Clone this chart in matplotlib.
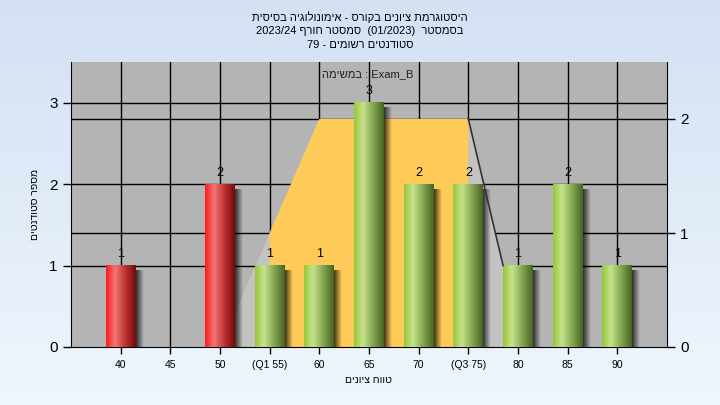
import re
import numpy as np
import matplotlib
matplotlib.use("Agg")
import matplotlib.pyplot as plt
from matplotlib.patches import Polygon

# ---------------- data ----------------
scores = [40, 45, 50, 55, 60, 65, 70, 75, 80, 85, 90]
counts = [1, 0, 2, 1, 1, 3, 2, 2, 1, 2, 1]
tick_labels = ['40', '45', '50', '(Q1 55)', '60', '65', '70', '(Q3 75)', '80', '85', '90']
pass_score = 55
left_ticks = [0, 1, 2, 3]
right_ticks = [0, 1, 2]
# distribution outline (score, value on right axis)
outline_x = [50, 55, 60, 75, 78.5, 78.5]
outline_y = [0, 1, 2, 2, 0.714, 0]
iqr_x = [55, 55, 60, 75, 75]
iqr_y = [0, 1, 2, 2, 0]

title_lines = ["היסטוגרמת ציונים בקורס - אימונולוגיה בסיסית",
               "בסמסטר  (01/2023)  סמסטר חורף 2023/24",
               "סטודנטים רשומים - 79"]
task_label = "Exam_B : במשימה"
x_title = "טווח ציונים"
y_title = "מספר סטודנטים"

FONT = ['Liberation Sans', 'DejaVu Sans']
plt.rcParams['font.family'] = FONT


def vis(s):
    """Visual order for a right-to-left paragraph (simple bidi)."""
    r = s[::-1]
    r = re.sub(r'[A-Za-z0-9_/.]+', lambda m: m.group(0)[::-1], r)
    return r.translate(str.maketrans('()', ')('))


LMAX, RMAX = 3.5, 2.5
k = LMAX / RMAX

fig = plt.figure(figsize=(7.2, 4.05), dpi=100)

# background gradient
bg = fig.add_axes([0, 0, 1, 1], zorder=-10)
top = np.array([211, 225, 243]) / 255
bot = np.array([239, 246, 253]) / 255
t = np.linspace(0, 1, 200)[:, None]
grad = top[None, :] * (1 - t) + bot[None, :] * t
bg.imshow(grad[:, None, :], aspect='auto', extent=[0, 1, 0, 1])
bg.axis('off')

ax = fig.add_axes([71 / 720, 1 - 347 / 405, (667 - 71) / 720, (347 - 62) / 405])
ax.set_facecolor('#b4b4b4')

# grid lines
for s in scores:
    ax.axvline(s, color='black', lw=1, zorder=0.5)
for v in left_ticks[1:]:
    ax.axhline(v, color='black', lw=1, zorder=0.5)
for v in right_ticks[1:]:
    ax.axhline(v * k, color='black', lw=1, zorder=0.5)

# outline polygons
ax.add_patch(Polygon(list(zip(outline_x, [y * k for y in outline_y])), closed=True,
                     facecolor='#c3c3c3', edgecolor='none', zorder=1))
ax.add_patch(Polygon(list(zip(iqr_x, [y * k for y in iqr_y])), closed=True,
                     facecolor='#fecb58', edgecolor='none', zorder=1.1))
ax.plot(outline_x[3:5], [outline_y[3] * k, outline_y[4] * k], color='#333333', lw=1.2, zorder=3.5)


def make_grad(stops, n=64):
    xs = np.linspace(0, 1, n)
    pos = [p for p, c in stops]
    cols = np.array([c for p, c in stops]) / 255
    return np.stack([np.interp(xs, pos, cols[:, i]) for i in range(3)], axis=1)


red_grad = make_grad([(0, (255, 25, 25)), (0.3, (242, 118, 118)), (0.65, (190, 50, 50)), (1, (115, 10, 10))])
green_grad = make_grad([(0, (150, 200, 60)), (0.3, (200, 226, 140)), (0.65, (130, 165, 80)), (1, (72, 100, 35))])

bw = 3.0
sh = np.zeros((1, 32, 4))
sh[0, :, 3] = np.linspace(0.75, 0.0, 32)
for s, c in zip(scores, counts):
    if c <= 0:
        continue
    g = red_grad if s < pass_score else green_grad
    x0, x1 = s - bw / 2, s + bw / 2
    # shadow
    ax.imshow(sh, extent=[x1, x1 + 0.8, 0, c - 0.06], aspect='auto', zorder=2,
              interpolation='bilinear')
    ax.imshow(g[None, :, :], extent=[x0, x1, 0, c], aspect='auto', zorder=3,
              interpolation='bilinear')
    ax.annotate(str(c), (s, c), xytext=(0, 4), textcoords='offset points',
                ha='center', va='bottom', fontsize=9, zorder=5)

ax.set_xlim(35, 95)
ax.set_ylim(0, LMAX)
ax.set_xticks(scores)
ax.set_xticklabels(tick_labels, fontsize=7.5)
ax.set_yticks(left_ticks)
ax.tick_params(axis='y', labelsize=11, length=6, width=1)
ax.tick_params(axis='x', length=5, width=1, pad=4)
ax.spines['top'].set_visible(False)
ax.spines['right'].set_visible(False)

ax2 = ax.twinx()
ax2.set_ylim(0, RMAX)
ax2.set_yticks(right_ticks)
ax2.tick_params(axis='y', labelsize=11, length=6, width=1)
ax2.spines['top'].set_visible(False)
ax2.spines['left'].set_visible(False)
ax2.spines['bottom'].set_visible(False)
ax2.patch.set_visible(False)

ax.text(0.498, 0.958, vis(task_label), transform=ax.transAxes, ha='center', va='center',
        fontsize=8, color='#202020', zorder=6)

for i, line in enumerate(title_lines):
    fig.text(0.5, 1 - (17 + 14 * i) / 405, vis(line), ha='center', va='center', fontsize=8)

fig.text(368 / 720, 1 - 380 / 405, vis(x_title), ha='center', va='center', fontsize=7.5)
fig.text(35 / 720, 1 - 204 / 405, vis(y_title), ha='center', va='center', fontsize=7.5, rotation=90)

fig.savefig('out.png', dpi=100)
